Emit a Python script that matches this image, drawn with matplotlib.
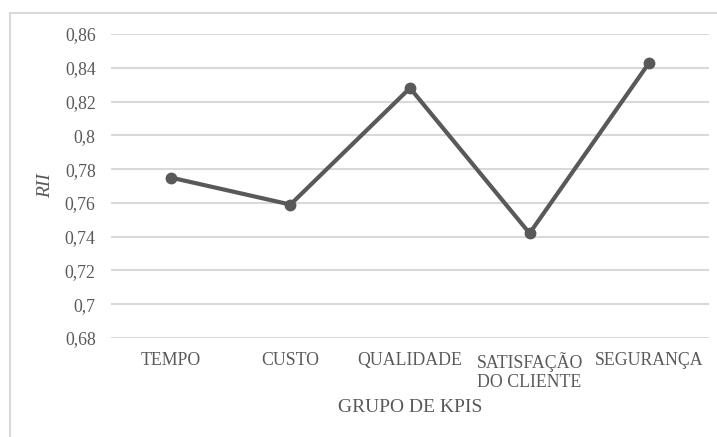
import matplotlib
matplotlib.use("Agg")
import matplotlib.pyplot as plt
from matplotlib.patches import Rectangle

categories = ["TEMPO", "CUSTO", "QUALIDADE", "SATISFAÇÃO\nDO CLIENTE", "SEGURANÇA"]
rii = [0.775, 0.759, 0.828, 0.742, 0.843]
yticks = [0.68, 0.70, 0.72, 0.74, 0.76, 0.78, 0.80, 0.82, 0.84, 0.86]
ytick_labels = ["0,68", "0,7", "0,72", "0,74", "0,76", "0,78", "0,8", "0,82", "0,84", "0,86"]

plt.rcParams['font.family'] = ['Liberation Serif', 'DejaVu Serif']
W, H = 717, 437
fig = plt.figure(figsize=(W / 100, H / 100), dpi=100)
ax = fig.add_axes([111 / W, 1 - 338 / H, (709 - 111) / W, (338 - 34) / H])

grey = "#595959"
ax.set_ylim(0.68, 0.86)
ax.set_xlim(-0.5, len(categories) - 0.5)
ax.set_yticks(yticks)
ax.set_yticklabels(ytick_labels)
ax.set_xticks(range(len(categories)))
ax.set_xticklabels(categories, linespacing=1.15)
ax.yaxis.grid(True, color="#d9d9d9", linewidth=1.5)
ax.set_axisbelow(True)
for s in ax.spines.values():
    s.set_visible(False)
ax.tick_params(axis="both", length=0, labelsize=12.8, colors=grey)
ax.tick_params(axis="y", pad=11)
ax.tick_params(axis="x", pad=10)

ax.plot(range(len(categories)), rii, color=grey, linewidth=3, marker="o",
        markersize=7.5, solid_capstyle="round", zorder=3)

ax.set_xlabel("GRUPO DE KPIS", fontsize=14, color=grey, labelpad=6)
ax.set_ylabel("RII", fontsize=14, color=grey, style="italic", labelpad=8)

fig.patches.append(Rectangle((10 / W, -0.1), 1.2, 1 - 13 / H + 0.1,
                             transform=fig.transFigure, fill=False,
                             edgecolor="#d9d9d9", linewidth=1.5))

fig.savefig("out.png", dpi=100)
